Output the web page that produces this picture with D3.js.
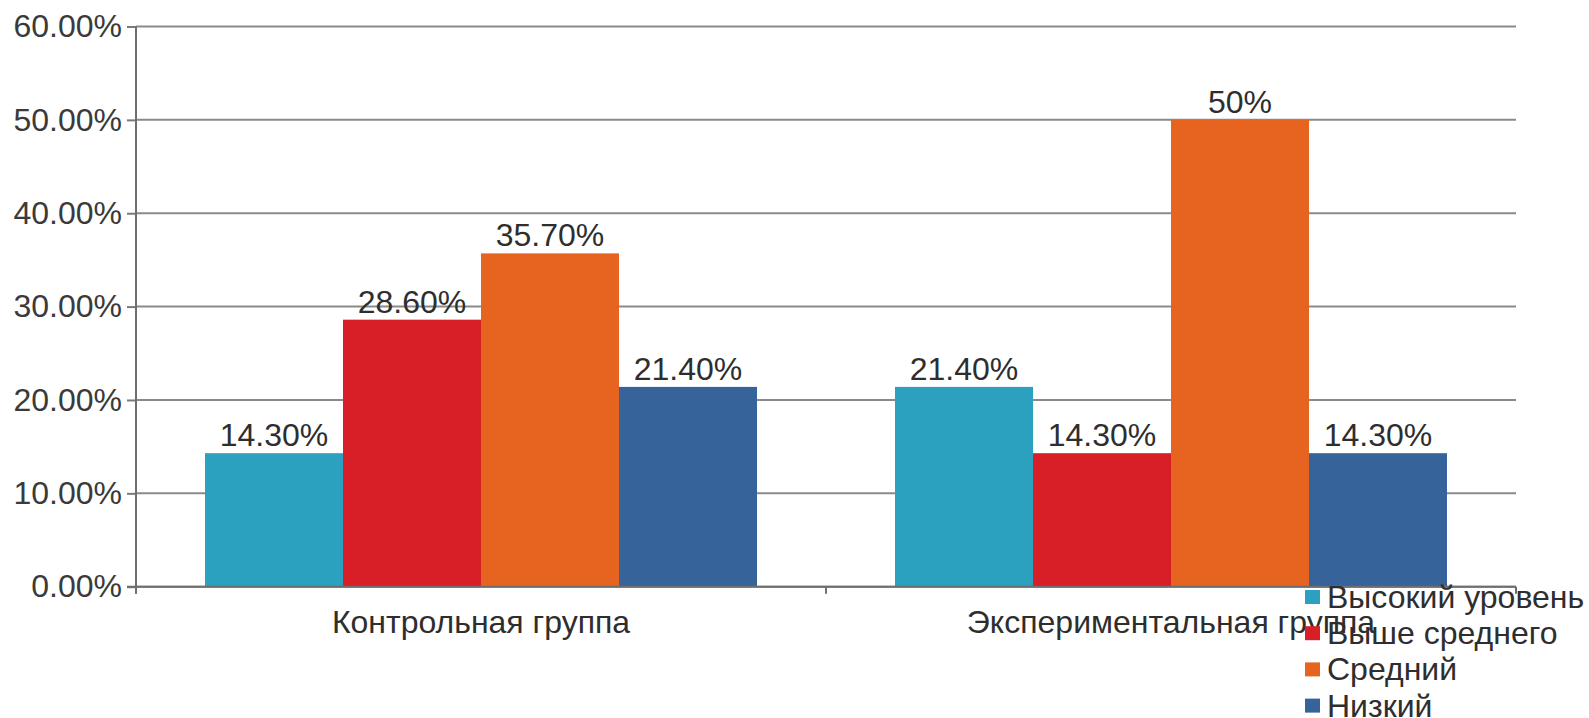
<!DOCTYPE html>
<html>
<head>
<meta charset="utf-8">
<script src="https://cdn.jsdelivr.net/npm/d3@7"></script>
<style>
  html, body { margin: 0; padding: 0; background: #fff; }
  svg { display: block; font-family: "Liberation Sans", Arial, sans-serif; }
</style>
</head>
<body>
<svg id="chart" width="1589" height="718"></svg>
<script>
// Groups along the x axis
const groups = ["Контрольная группа", "Экспериментальная группа"];
// Levels (one bar per level within each group)
const levels = ["Высокий уровень", "Выше среднего", "Средний", "Низкий"];
// Share of pupils per level, per group
const controlValues = [0.143, 0.286, 0.357, 0.214];
const experimentValues = [0.214, 0.143, 0.50, 0.143];
// Labels printed above the bars
const controlLabels = ["14.30%", "28.60%", "35.70%", "21.40%"];
const experimentLabels = ["21.40%", "14.30%", "50%", "14.30%"];
// Y axis ticks
const yTicks = [0, 0.1, 0.2, 0.3, 0.4, 0.5, 0.6];
const levelColors = ["#2ca0bf", "#d81f28", "#e6641f", "#37639b"];

const svg = d3.select("#chart");
const plotLeft = 136, plotRight = 1516, plotTop = 26.5, plotBottom = 586.7;
const fontSize = 32;

const rows = groups.map((g, i) => ({
  group: g,
  values: i === 0 ? controlValues : experimentValues,
  labels: i === 0 ? controlLabels : experimentLabels
}));

const x0 = d3.scaleBand().domain(groups).range([plotLeft, plotRight]).paddingInner(0.2).paddingOuter(0.1);
const x1 = d3.scaleBand().domain(levels).range([0, x0.bandwidth()]);
const y = d3.scaleLinear().domain([0, 0.6]).range([plotBottom, plotTop]);
const color = d3.scaleOrdinal().domain(levels).range(levelColors);

// Horizontal grid lines
svg.append("g").selectAll("line")
  .data(yTicks).join("line")
  .attr("x1", plotLeft).attr("x2", plotRight)
  .attr("y1", d => y(d)).attr("y2", d => y(d))
  .attr("stroke", "#8a8a8a").attr("stroke-width", 2);

// Y axis ticks and labels
const yAxis = svg.append("g")
  .attr("transform", `translate(${plotLeft},0)`)
  .call(d3.axisLeft(y).tickValues(yTicks).tickSize(9).tickPadding(5)
    .tickFormat(d => (d * 100).toFixed(2) + "%"));
yAxis.select(".domain").remove();
yAxis.selectAll(".tick line").attr("stroke", "#7a7a7a").attr("stroke-width", 2);
yAxis.selectAll(".tick text")
  .attr("font-size", fontSize).attr("fill", "#3a3a3a")
  .attr("font-family", "Liberation Sans, Arial, sans-serif");

// Bars
const gGroups = svg.append("g").selectAll("g")
  .data(rows).join("g")
  .attr("transform", d => `translate(${x0(d.group)},0)`);

gGroups.selectAll("rect")
  .data(d => d.values.map((v, i) => ({ level: levels[i], value: v })))
  .join("rect")
  .attr("x", d => x1(d.level))
  .attr("width", x1.bandwidth())
  .attr("y", d => y(d.value))
  .attr("height", d => y(0) - y(d.value))
  .attr("fill", d => color(d.level));

gGroups.selectAll("text")
  .data(d => d.values.map((v, i) => ({ level: levels[i], value: v, label: d.labels[i] })))
  .join("text")
  .attr("x", d => x1(d.level) + x1.bandwidth() / 2)
  .attr("y", d => y(d.value) - 7)
  .attr("text-anchor", "middle")
  .attr("font-size", fontSize)
  .attr("fill", "#2e2e2e")
  .text(d => d.label);

// Baseline and vertical axis
svg.append("line")
  .attr("x1", plotLeft - 9).attr("x2", plotRight)
  .attr("y1", y(0)).attr("y2", y(0))
  .attr("stroke", "#6e6e6e").attr("stroke-width", 2);
svg.append("line")
  .attr("x1", plotLeft).attr("x2", plotLeft)
  .attr("y1", y(0.6)).attr("y2", y(0) + 7)
  .attr("stroke", "#6e6e6e").attr("stroke-width", 2);

// Category axis: boundary ticks and group names
const boundaries = [plotLeft, (plotLeft + plotRight) / 2, plotRight];
svg.append("g").selectAll("line")
  .data(boundaries).join("line")
  .attr("x1", d => d).attr("x2", d => d)
  .attr("y1", y(0)).attr("y2", y(0) + 7)
  .attr("stroke", "#6e6e6e").attr("stroke-width", 2);

svg.append("g").selectAll("text")
  .data(groups).join("text")
  .attr("x", d => x0(d) + x0.bandwidth() / 2)
  .attr("y", y(0) + 46)
  .attr("text-anchor", "middle")
  .attr("font-size", fontSize)
  .attr("fill", "#2e2e2e")
  .text(d => d);

// Legend
const legend = svg.append("g").attr("transform", "translate(1305,597)");
const items = legend.selectAll("g").data(levels).join("g")
  .attr("transform", (d, i) => `translate(0,${i * 36.2})`);
items.append("rect")
  .attr("x", 0).attr("y", -7).attr("width", 15).attr("height", 14)
  .attr("fill", d => color(d));
items.append("text")
  .attr("x", 22).attr("y", 11)
  .attr("font-size", fontSize)
  .attr("fill", "#2e2e2e")
  .text(d => d);
</script>
</body>
</html>
